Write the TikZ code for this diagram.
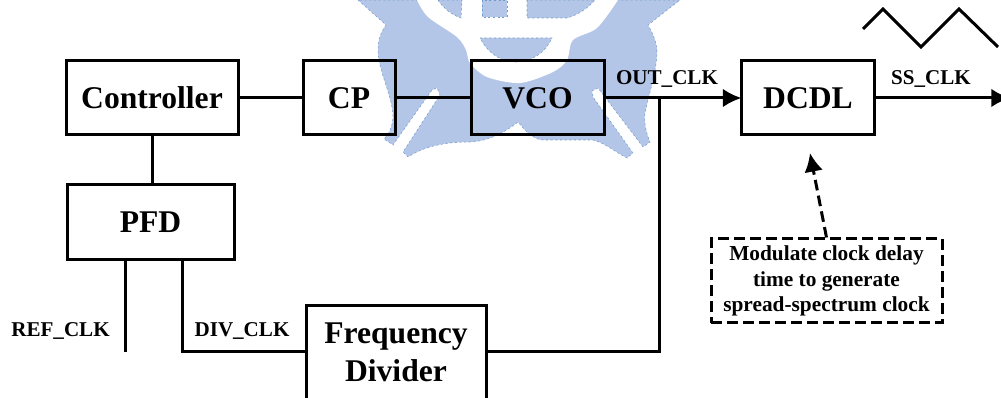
\documentclass[tikz,border=0pt]{standalone}
\usepackage{fontspec}
\setmainfont{Liberation Serif}
\usetikzlibrary{arrows.meta}
\definecolor{wmblue}{HTML}{B4C6E7}
\definecolor{wmedge}{HTML}{6F9BCB}
\newcommand{\pxu}{0.75pt}
\tikzset{
  block/.style 2 args={draw, line width=2.25pt, inner sep=0pt, outer sep=0pt,
    font=\fontsize{23.7}{28.5}\selectfont\bfseries, align=center,
    minimum width=#1*\pxu, minimum height=#2*\pxu},
  wire/.style={line width=2.25pt},
  tip/.style={-{Latex[length=14pt,width=14pt]}},
  dashline/.style={line width=2.25pt, dash pattern=on 8pt off 4pt},
  siglabel/.style={font=\fontsize{15.8}{19}\selectfont\bfseries, inner sep=0pt},
  wmpiece/.style={fill=wmblue, draw=wmedge, dash pattern=on 1.5pt off 2pt, line width=0.4pt}
}
\begin{document}
\begin{tikzpicture}[x=0.75pt,y=-0.75pt]
  \useasboundingbox (0,0) rectangle (1001,398);
  % watermark
  \fill[wmpiece] (358,0) -- (386,25) .. controls (380,33) and (378,42) .. (378,50)
    .. controls (378,70) and (392,95) .. (393,115) .. controls (393,125) and (390,133) .. (384,139)
    -- (393,145) -- (400,135) -- (432,90) -- (437,88) -- (440,95) -- (403,152) -- (408,157)
    .. controls (425,146) and (445,142) .. (470,142)
    .. controls (490,141) and (505,132) .. (518,122)
    .. controls (527,133) and (535,140) .. (543,140) -- (593,140)
    .. controls (605,143) and (615,152) .. (627,158)
    -- (633,153) -- (593,97) -- (592,91) -- (598,88) -- (643,147) -- (650,142)
    .. controls (645,130) and (644,120) .. (645,113)
    .. controls (650,90) and (657,70) .. (657,50)
    .. controls (656,40) and (652,32) .. (648,25) -- (680,0) -- cycle;
  \fill[white] plot[smooth] coordinates {(417,0) (428,17) (457,37) (466,50) (470,63) (487,77) (520,83) (553,72) (567,60) (573,40) (597,28) (618,0)} -- cycle;
  \fill[wmpiece] (438,0) .. controls (443,8) and (452,15) .. (461,18) -- (462,0) -- cycle;
  \fill[wmpiece] (482,0) rectangle (507,17);
  \fill[wmpiece] (527,0) -- (527,18) -- (567,18) .. controls (578,15) and (588,8) .. (595,0) -- cycle;
  \fill[wmpiece] (480,38) -- (552,38) .. controls (546,52) and (532,62) .. (516,62)
    .. controls (500,62) and (487,52) .. (480,38) -- cycle;
  % blocks
  \node[block={172}{74}] (ctrl) at (152,98) {Controller};
  \node[block={92}{74}] (cp) at (349,98) {CP};
  \node[block={133}{74}] (vco) at (537.5,98) {VCO};
  \node[block={133}{74}] (dcdl) at (808,98) {DCDL};
  \node[block={167}{75}] (pfd) at (150.5,222.5) {PFD};
  \node[block={180}{92}, draw=none] (fdiv) at (396,352) {Frequency\\Divider};
  \draw[line width=2.25pt] (fdiv.south west) -- (fdiv.north west) -- (fdiv.north east) -- (fdiv.south east);
  % note
  \node[draw, dashline, minimum width=231*\pxu, minimum height=84*\pxu,
    inner sep=0pt, align=center, font=\fontsize{16}{19}\selectfont\bfseries] (note) at (826.5,281)
    {Modulate clock delay\\time to generate\\spread-spectrum clock};
  % free ends
  \coordinate (ssend) at (1010,98);
  \coordinate (refend) at (125,352);
  \coordinate (branch) at (659,98);
  \coordinate (noteend) at (810,153);
  % connectors
  \draw[wire] (ctrl) -- (cp);
  \draw[wire] (cp) -- (vco);
  \draw[wire, tip] (vco) -- (dcdl);
  \draw[wire, tip] (dcdl) -- (ssend);
  \draw[wire] (ctrl.south) -- (ctrl.south |- pfd.north);
  \draw[wire] (refend |- pfd.south) -- (refend);
  \draw[wire] (182,260) |- (fdiv.west);
  \draw[wire] (fdiv.east) -| (branch);
  \draw[dashline, tip] (note.north) -- (noteend);
  % waveform
  \draw[wire, line join=miter] (863,29) -- (883,9) -- (921,47) -- (959,9) -- (998,47);
  % labels
  \node[siglabel] (outlbl) at (667,79) {OUT\_CLK};
  \node[siglabel] (sslbl) at (931,79) {SS\_CLK};
  \node[siglabel] (reflbl) at (60.5,331) {REF\_CLK};
  \node[siglabel] (divlbl) at (242,331) {DIV\_CLK};
\end{tikzpicture}
\end{document}
